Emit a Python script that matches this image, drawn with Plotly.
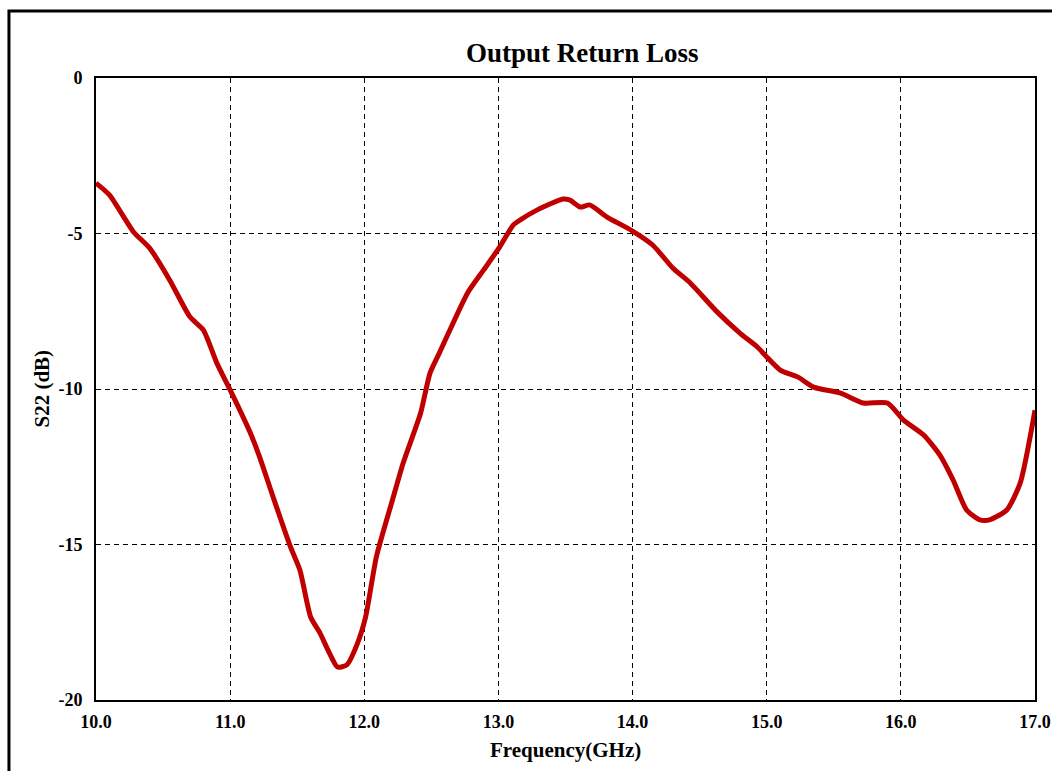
import plotly.graph_objects as go

freq_ghz = [10.00, 10.10, 10.28, 10.40, 10.55, 10.70, 10.80, 10.90, 11.00, 11.15,
            11.22, 11.32, 11.45, 11.52, 11.60, 11.67, 11.74, 11.80, 11.87, 11.95,
            12.01, 12.09, 12.21, 12.29, 12.42, 12.49, 12.56, 12.77, 12.89, 13.01,
            13.11, 13.16, 13.29, 13.48, 13.53, 13.61, 13.68, 13.81, 14.00, 14.15,
            14.30, 14.43, 14.63, 14.80, 14.93, 15.00, 15.10, 15.23, 15.35, 15.55,
            15.72, 15.90, 16.02, 16.17, 16.29, 16.39, 16.49, 16.59, 16.66, 16.79,
            16.89, 17.00]
s22_db = [-3.38, -3.76, -4.95, -5.47, -6.50, -7.68, -8.10, -9.16, -10.03, -11.41,
          -12.19, -13.47, -15.08, -15.82, -17.33, -17.85, -18.49, -18.94, -18.87, -18.17,
          -17.33, -15.40, -13.57, -12.38, -10.77, -9.49, -8.84, -6.91, -6.17, -5.43,
          -4.73, -4.57, -4.24, -3.89, -3.92, -4.15, -4.08, -4.47, -4.92, -5.37,
          -6.11, -6.59, -7.52, -8.20, -8.65, -8.97, -9.39, -9.61, -9.94, -10.13,
          -10.45, -10.45, -11.00, -11.48, -12.12, -12.93, -13.89, -14.21, -14.21, -13.89,
          -13.02, -10.68]

x_ticks = [10, 11, 12, 13, 14, 15, 16, 17]
x_tick_labels = ["10.0", "11.0", "12.0", "13.0", "14.0", "15.0", "16.0", "17.0"]
y_ticks = [0, -5, -10, -15, -20]
y_tick_labels = ["0", "-5", "-10", "-15", "-20"]

FONT = "Liberation Serif"

fig = go.Figure()
fig.add_trace(go.Scatter(
    x=freq_ghz, y=s22_db, mode="lines",
    line=dict(color="#C00000", width=5, shape="spline", smoothing=0.6),
    hoverinfo="skip", showlegend=False,
))

axis_common = dict(
    showline=True, linecolor="black", linewidth=2, mirror=True,
    showgrid=True, gridcolor="black", gridwidth=1, griddash="5px,4px",
    zeroline=False, ticks="", automargin=False,
    tickfont=dict(family=FONT, size=18, color="black", weight="bold"),
)

fig.update_layout(
    width=1052, height=771,
    margin=dict(l=96, r=17, t=78, b=71),
    paper_bgcolor="white", plot_bgcolor="white",
    xaxis=dict(range=[10, 17], tickvals=x_ticks, ticktext=x_tick_labels,
               ticklabelstandoff=4, **axis_common),
    yaxis=dict(range=[-20, 0], tickvals=y_ticks, ticktext=y_tick_labels,
               ticklabelstandoff=8, **axis_common),
    annotations=[
        dict(text="<b>Output Return Loss</b>", x=0.5186, y=1.040, xref="paper", yref="paper",
             showarrow=False, font=dict(family=FONT, size=27, color="black"),
             xanchor="center", yanchor="middle"),
        dict(text="<b>Frequency(GHz)</b>", x=0.5, y=-0.080, xref="paper", yref="paper",
             showarrow=False, font=dict(family=FONT, size=21, color="black"),
             xanchor="center", yanchor="middle"),
        dict(text="<b>S22 (dB)</b>", x=-0.058, y=0.5, xref="paper", yref="paper",
             showarrow=False, textangle=-90, font=dict(family=FONT, size=21, color="black"),
             xanchor="center", yanchor="middle"),
    ],
    shapes=[
        dict(type="rect", xref="paper", yref="paper",
             x0=-0.0927, x1=1.03, y0=-0.14, y1=1.1077,
             line=dict(color="black", width=3), fillcolor="rgba(0,0,0,0)", layer="above"),
    ],
)

fig.write_html("out.html")
